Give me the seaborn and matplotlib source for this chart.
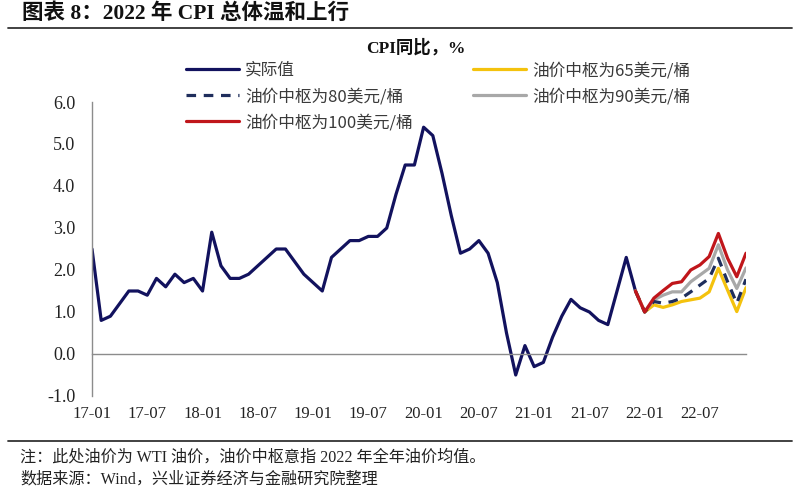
import numpy as np
import pandas as pd
import matplotlib
matplotlib.use("Agg")
import matplotlib.pyplot as plt
from matplotlib.lines import Line2D
import seaborn as sns

# ---------------- data ----------------
actual_months = pd.period_range("2017-01", "2021-12", freq="M")
actual = [2.5, 0.8, 0.9, 1.2, 1.5, 1.5, 1.4, 1.8, 1.6, 1.9, 1.7, 1.8,
          1.5, 2.9, 2.1, 1.8, 1.8, 1.9, 2.1, 2.3, 2.5, 2.5, 2.2, 1.9,
          1.7, 1.5, 2.3, 2.5, 2.7, 2.7, 2.8, 2.8, 3.0, 3.8, 4.5, 4.5,
          5.4, 5.2, 4.3, 3.3, 2.4, 2.5, 2.7, 2.4, 1.7, 0.5, -0.5, 0.2,
          -0.3, -0.2, 0.4, 0.9, 1.3, 1.1, 1.0, 0.8, 0.7, 1.5, 2.3, 1.5]

fc_months = pd.period_range("2021-12", "2022-12", freq="M")
oil65 = [1.5, 1.0, 1.17, 1.11, 1.17, 1.25, 1.29, 1.33, 1.48, 2.04, 1.52, 1.01, 1.58]
oil80 = [1.5, 1.0, 1.25, 1.21, 1.25, 1.33, 1.48, 1.64, 1.80, 2.28, 1.72, 1.21, 1.78]
oil90 = [1.5, 1.0, 1.29, 1.40, 1.48, 1.48, 1.72, 1.88, 2.04, 2.60, 2.00, 1.56, 2.05]
oil100 = [1.5, 1.0, 1.33, 1.51, 1.68, 1.72, 2.00, 2.12, 2.32, 2.87, 2.28, 1.84, 2.40]

tick_labels = ["17-01", "17-07", "18-01", "18-07", "19-01", "19-07",
               "20-01", "20-07", "21-01", "21-07", "22-01", "22-07"]
yticks = [-1.0, 0.0, 1.0, 2.0, 3.0, 4.0, 5.0, 6.0]

labels = {"actual": "实际值", "65": "油价中枢为65美元/桶", "80": "油价中枢为80美元/桶",
          "90": "油价中枢为90美元/桶", "100": "油价中枢为100美元/桶"}

start = pd.Period("2017-01", freq="M")
def idx(months):
    return [(m - start).n for m in months]

df_act = pd.DataFrame({"x": idx(actual_months), "y": actual})
df_fc = pd.DataFrame({"x": idx(fc_months), "65": oil65, "80": oil80,
                      "90": oil90, "100": oil100})
tick_pos = [(pd.Period("20" + t, freq="M") - start).n for t in tick_labels]
end_x = (pd.Period("2022-12", freq="M") - start).n

# ---------------- style ----------------
sns.set_theme(style="white")
plt.rcParams["font.family"] = ["Liberation Serif", "Noto Sans CJK SC", "DejaVu Sans"]
plt.rcParams["axes.unicode_minus"] = False

navy = "#12125E"
red = "#C0161B"
grey = "#A8A8A8"
gold = "#F4C20D"
dnavy = "#1F2E5C"
axis_c = "#8C8C8C"

fig = plt.figure(figsize=(8, 5), dpi=100)
ax = fig.add_axes([92 / 800, 104 / 500, (746 - 92) / 800, (396 - 102) / 500])

lw = 2.3
sns.lineplot(data=df_act, x="x", y="y", ax=ax, color=navy, lw=lw, label=labels["actual"])
sns.lineplot(data=df_fc, x="x", y="65", ax=ax, color=gold, lw=lw, label=labels["65"])
sns.lineplot(data=df_fc, x="x", y="90", ax=ax, color=grey, lw=lw, label=labels["90"])
sns.lineplot(data=df_fc, x="x", y="80", ax=ax, color=dnavy, lw=lw, label=labels["80"],
             linestyle=(0, (3.0, 2.4)))
sns.lineplot(data=df_fc, x="x", y="100", ax=ax, color=red, lw=lw, label=labels["100"])

ax.set_xlim(0, end_x)
ax.set_ylim(-1, 6)
ax.set_xlabel("")
ax.set_ylabel("")

for s in ["top", "right"]:
    ax.spines[s].set_visible(False)
ax.spines["left"].set_color(axis_c)
ax.spines["left"].set_linewidth(1.0)
ax.spines["bottom"].set_position(("data", 0))
ax.spines["bottom"].set_color(axis_c)
ax.spines["bottom"].set_linewidth(1.0)

ax.set_yticks(yticks)
ax.set_yticklabels([f"{v:.1f}" for v in yticks])
ax.tick_params(axis="y", direction="in", length=5, width=1, color=axis_c,
               pad=12, labelsize=13, labelcolor="#222222")
ax.set_xticks(tick_pos)
ax.tick_params(axis="x", direction="in", length=5, width=1, color=axis_c,
               labelbottom=False)

sec = ax.secondary_xaxis(0)
sec.set_xticks(tick_pos)
sec.set_xticklabels(tick_labels)
sec.tick_params(axis="x", length=0, pad=7, labelsize=12, labelcolor="#222222")
sec.spines["bottom"].set_visible(False)

# legend
h = {l.get_label(): l for l in ax.get_lines()}
order = [labels["actual"], labels["80"], labels["100"], labels["65"], labels["90"]]
leg = ax.legend([h[k] for k in order], order, ncol=2, frameon=False,
                loc="upper left", bbox_to_anchor=(186 / 800, 1 - 62 / 500),
                bbox_transform=fig.transFigure, borderpad=0, borderaxespad=0,
                handlelength=3.2, handletextpad=0.35,
                labelspacing=0.54, columnspacing=3.6,
                prop={"family": ["Noto Sans CJK SC", "DejaVu Sans"], "size": 12})
for t in leg.get_texts():
    t.set_color("#3A3A3A")

# title, subtitle, rules, notes
fig.text(22 / 800, 1 - 14 / 500, "图表 8：2022 年 CPI 总体温和上行", fontsize=15.5,
         fontweight="bold", va="center", ha="left", color="#111111",
         family=["Liberation Serif", "Noto Sans CJK SC"])
fig.add_artist(Line2D([8 / 800, 792 / 800], [1 - 28 / 500] * 2, color="#333333", lw=1.3))
fig.text(416 / 800, 1 - 48 / 500, "CPI同比，%", fontsize=12.5, fontweight="bold",
         va="center", ha="center", color="#111111",
         family=["Liberation Serif", "Noto Sans CJK SC"])
fig.add_artist(Line2D([8 / 800, 792 / 800], [1 - 441 / 500] * 2, color="#333333", lw=1.3))
fig.text(20 / 800, 1 - 457 / 500, "注：此处油价为 WTI 油价，油价中枢意指 2022 年全年油价均值。",
         fontsize=11.6, va="center", ha="left", color="#222222",
         family=["Liberation Serif", "Noto Sans CJK SC"])
fig.text(20 / 800, 1 - 479 / 500, "数据来源：Wind，兴业证券经济与金融研究院整理",
         fontsize=11.6, va="center", ha="left", color="#222222",
         family=["Liberation Serif", "Noto Sans CJK SC"])

fig.savefig("out.png", dpi=100)
